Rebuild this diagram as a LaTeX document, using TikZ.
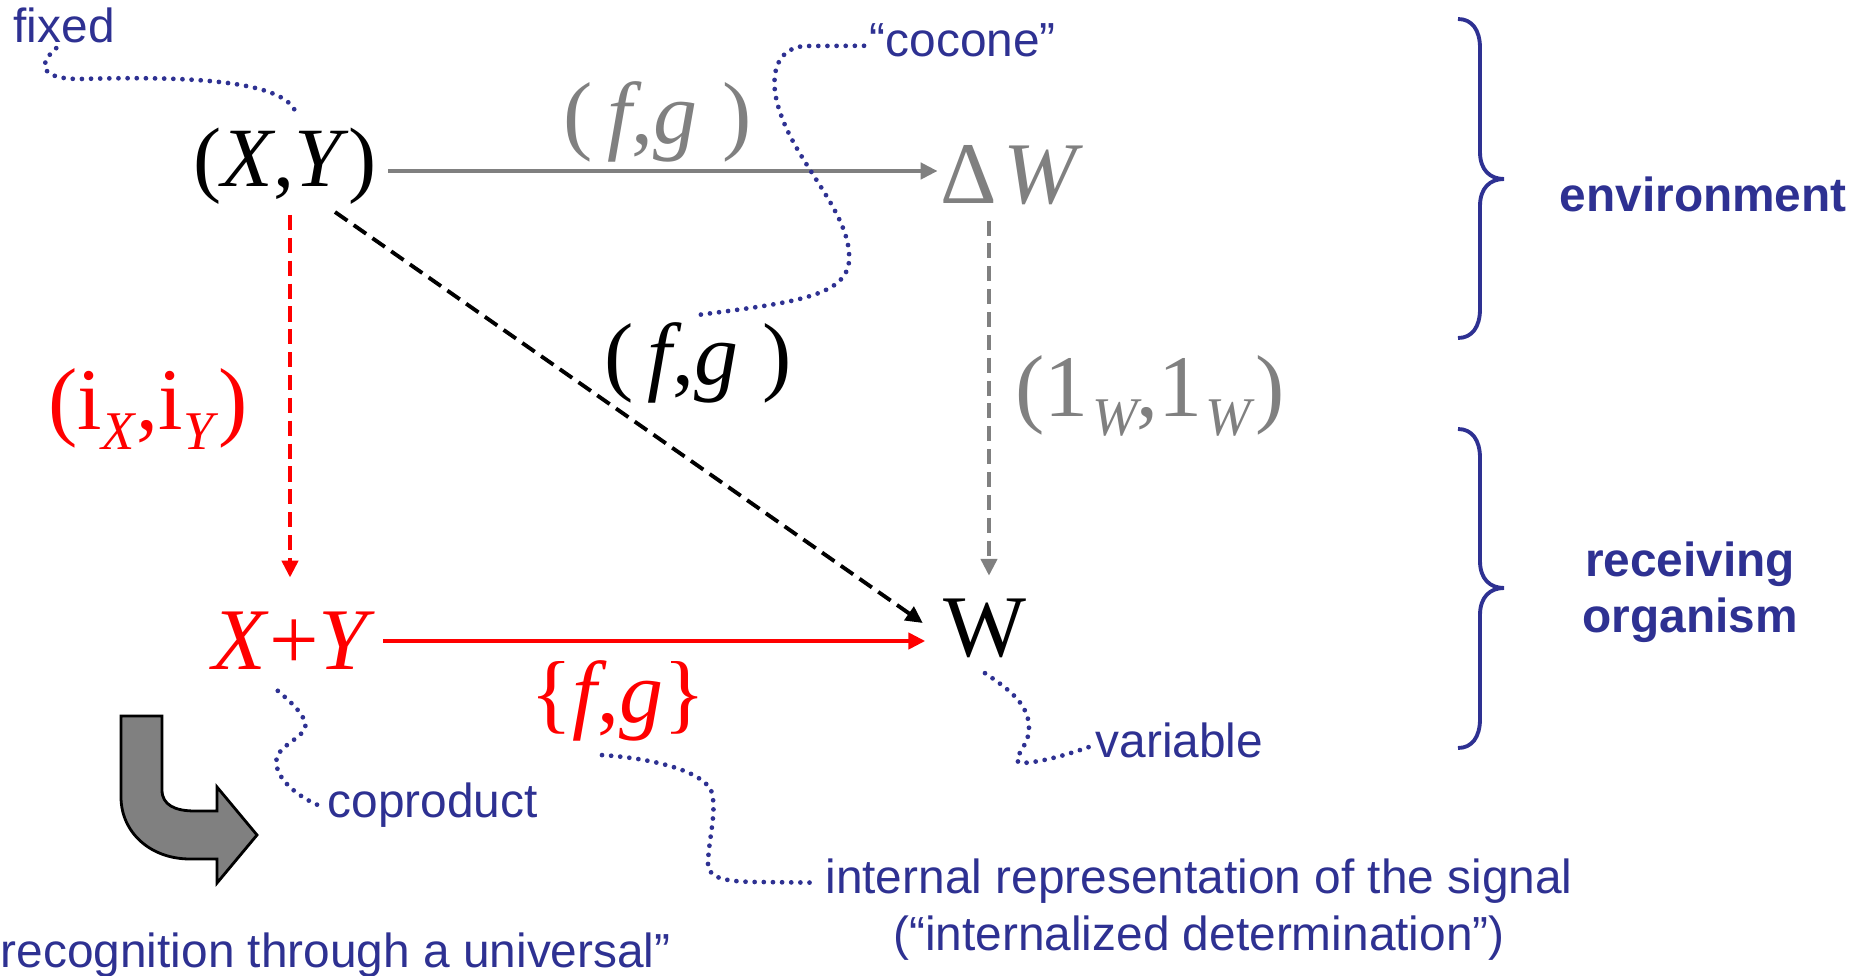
\documentclass[tikz,border=0pt]{standalone}
\usepackage{fontspec}
\setmainfont{Liberation Serif}
\setsansfont{Liberation Sans}
\usetikzlibrary{arrows.meta,calc,positioning}
\definecolor{SignalBlue}{RGB}{46,49,146}
\definecolor{SignalGray}{RGB}{128,128,128}
\definecolor{SignalRed}{RGB}{255,0,0}
\newcommand{\lowsub}[1]{\raisebox{-5.5pt}{\fontsize{15.5}{16}\selectfont\textit{#1}}}

\begin{document}
\begin{tikzpicture}[x=0.01cm, y=-0.01cm,
    big/.style={font=\fontsize{25}{30}\selectfont, inner sep=2pt},
    note/.style={font=\sffamily\fontsize{13.6}{16}\selectfont, text=SignalBlue, inner sep=0pt, anchor=base west},
    notebold/.style={note, font=\sffamily\bfseries\fontsize{13.6}{16}\selectfont},
    lead/.style={SignalBlue, line width=1.35pt, line cap=round, dash pattern=on 0pt off 2.6pt},
    map/.style={line width=1.1pt, -{Triangle[length=4.8pt, width=4.6pt]}},
    dashmap/.style={map, dash pattern=on 4.3pt off 2.2pt}]
    \useasboundingbox (0,0) rectangle (1854,976);

    % Objects
    \node[big, font=\fontsize{24}{30}\selectfont] (XY) at (285,166) {(\textit{X},\textit{Y})};
    \node[big, text=SignalGray] (DW) at (1012,175) {Δ\kern2pt\textit{W}};
    \node[big, text=SignalRed] (XpY) at (294,641) {\textit{X}+\textit{Y}};
    \node[big] (W) at (985,628) {W};

    % Arrows
    \draw[map, SignalGray] ($(XY.east)+(4,5)$) -- node[big, pos=0.49, above, text=SignalGray] (fgTop) {(\,\textit{f},\textit{g}\;)} ($(XY.east -| DW.west)+(5,5)$);
    \draw[dashmap, SignalRed] ($(XY.south)+(5,3)$) -- ($(XpY.north)+(-4,-27)$);
    \draw[dashmap, SignalGray, shorten <=2.3pt, shorten >=4.3pt] ($(W.north |- DW.south)+(4,0)$) -- ($(W.north)+(4,0)$);
    \draw[dashmap, black] ($(XY.south)+(50,0)$) -- ($(W.west)+(-13,-5)$);
    \draw[map, SignalRed, shorten >=3pt] (XpY.east) -- node[big, pos=0.425, below=3pt, text=SignalRed] (fgSet) {\{\textit{f},\textit{g}\}} (XpY.east -| W.west);

    % Arrow labels
    \node[big] (fgDiag) at (698,363) {(\,\textit{f},\textit{g}\;)};
    \node[big, text=SignalRed] (iXY) at (148,409) {(i\lowsub{X},i\lowsub{Y})};
    \node[big, text=SignalGray] (oneW) at (1150,396) {(1\kern1pt\lowsub{W}\kern-1.5pt,1\kern1pt\lowsub{W})};

    % Notes
    \node[note] (fixed) at (13,43) {fixed};
    \node[note] (cocone) at (869,57) {“cocone”};
    \node[note] (coprod) at (327,817) {coproduct};
    \node[note] (variable) at (1095,757) {variable};
    \node[note, anchor=base] (signal) at (1199,893) {internal representation of the signal};
    \node[note, anchor=base] (signalb) at (1199,950) {(“internalized determination”)};
    \node[note] (recog) at (0,967) {recognition through a universal”};
    \node[notebold] (env) at (1559,212) {environment};
    \node[notebold, anchor=base] (recv) at (1690,576) {receiving};
    \node[notebold, anchor=base] (organism) at (1690,632) {organism};

    % Dotted leaders
    \draw[lead] ($(fixed.south)+(-8,4)$) .. controls (36,66) and (42,79) .. (80,79) .. controls (190,76) and (292,80) .. ($(XY.north)+(12,-3)$);
    \draw[lead] ($(cocone.west)+(-5,5)$) -- (805,46) .. controls (775,48) and (768,78) .. (780,112) .. controls (797,165) and (853,215) .. (849,262) .. controls (845,297) and (790,303) .. (fgDiag.north);
    \draw[lead] ($(coprod.west)+(-10,0)$) .. controls (295,795) and (272,775) .. (277,757) .. controls (282,743) and (310,735) .. (305,722) .. controls (300,708) and (282,695) .. ($(XpY.south)+(-21,9)$);
    \draw[lead] ($(W.south)+(0,8)$) .. controls (1010,690) and (1030,705) .. (1029,730) .. controls (1028,748) and (1008,762) .. (1022,763) .. controls (1045,762) and (1075,752) .. ($(variable.west)+(-3,6)$);
    \draw[lead] ($(fgSet.south)+(-16,5)$) .. controls (650,758) and (700,770) .. (711,790) .. controls (718,810) and (708,840) .. (708,865) .. controls (709,878) and (725,882) .. (760,882) -- ($(signal.west)+(-12,2)$);

    % Braces
    \foreach \top/\tip/\bot in {19/179/338, 429/588/748}
      \draw[SignalBlue, line width=1.1pt] (1458,\top) .. controls (1472,\top) and (1480,{\top+11}) .. (1480,{\top+29})
        -- (1480,{\tip-27}) .. controls (1480,{\tip-9}) and (1490,\tip) .. (1504,\tip)
        .. controls (1490,\tip) and (1480,{\tip+9}) .. (1480,{\tip+27})
        -- (1480,{\bot-29}) .. controls (1480,{\bot-11}) and (1472,\bot) .. (1458,\bot);

    % Bent arrow
    \filldraw[fill=SignalGray, draw=black, line width=0.8pt] (121,716) -- (162,716) -- (162,790)
      .. controls (162,805) and (175,811) .. (195,811) -- (217,811) -- (217,787) -- (257,835)
      -- (217,883) -- (217,859) -- (190,859) .. controls (150,859) and (121,832) .. (121,797) -- cycle;
\end{tikzpicture}
\end{document}
